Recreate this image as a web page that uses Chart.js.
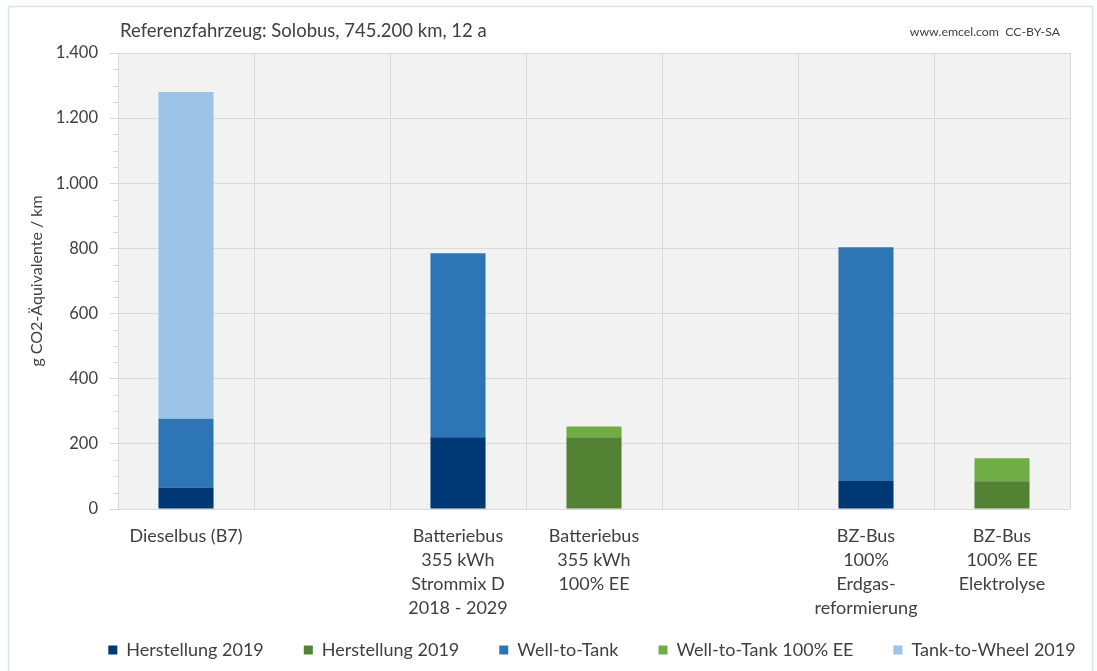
<!DOCTYPE html>
<html>
<head>
<meta charset="utf-8">
<script src="https://cdn.jsdelivr.net/npm/chart.js@4.4.1/dist/chart.umd.min.js"></script>
<style>
  html, body { margin: 0; padding: 0; background: #ffffff; }
  #wrap { position: relative; width: 1097px; height: 671px; }
  canvas { display: block; }
</style>
</head>
<body>
<div id="wrap"><canvas id="c" width="1097" height="671"></canvas></div>
<script>
// Vehicle categories (empty slots keep the gaps between vehicle groups)
const categories = [
  ["Dieselbus (B7)"],
  [""],
  ["Batteriebus", "355 kWh", "Strommix D", "2018 - 2029"],
  ["Batteriebus", "355 kWh", "100% EE"],
  [""],
  ["BZ-Bus", "100%", "Erdgas-", "reformierung"],
  ["BZ-Bus", "100% EE", "Elektrolyse"]
];

// g CO2-equivalents per km, per life-cycle stage
const herstellungFossil = [66, null, 220, null, null, 86, null];
const herstellungEE     = [null, null, null, 220, null, null, 85];
const wellToTank        = [211, null, 565, null, null, 718, null];
const wellToTankEE      = [null, null, null, 33, null, null, 71];
const tankToWheel       = [1003, null, null, null, null, null, null];

const yTicks = [0, 200, 400, 600, 800, 1000, 1200, 1400];

const titleText = "Referenzfahrzeug: Solobus, 745.200 km, 12 a";
const sourceText = "www.emcel.com  CC-BY-SA";
const yAxisTitle = "g CO2-Äquivalente / km";

const FONT = "Lato, 'Open Sans', sans-serif";
const TEXT = "#404040";
const GRID = "#d9d9d9";

function fmt(v) {
  return String(v).replace(/\B(?=(\d{3})+(?!\d))/g, ".");
}

// light hatched fill for the plotting area
function makeHatch() {
  const p = document.createElement("canvas");
  p.width = 4; p.height = 4;
  const g = p.getContext("2d");
  g.fillStyle = "#f4f4f4";
  g.fillRect(0, 0, 4, 4);
  g.strokeStyle = "#ececec";
  g.lineWidth = 1;
  g.beginPath();
  g.moveTo(0, 4); g.lineTo(4, 0);
  g.stroke();
  return p;
}

const decor = {
  id: "decor",
  afterLayout(chart) {
    // category labels run below the axis box; let them draw unclipped
    chart.scales.x._computeLabelArea = () => undefined;
    // legend row sits a little right of the canvas centre
    const lg = chart.legend;
    if (lg) { lg.left += 57; lg.right += 57; }
  },
  beforeDraw(chart) {
    const { ctx, chartArea: a, scales } = chart;
    ctx.save();
    // outer frame
    ctx.strokeStyle = "#d5e5ec";
    ctx.lineWidth = 1.5;
    ctx.strokeRect(8.5, 6.5, 1084, 700);
    // plot background
    ctx.fillStyle = ctx.createPattern(makeHatch(), "repeat");
    ctx.fillRect(a.left, a.top, a.right - a.left, a.bottom - a.top);
    // minor ticks every 50
    const y = scales.y;
    ctx.strokeStyle = GRID;
    ctx.lineWidth = 1;
    for (let v = 50; v < 1400; v += 50) {
      if (v % 200 === 0) continue;
      const py = Math.round(y.getPixelForValue(v)) + 0.5;
      ctx.beginPath();
      ctx.moveTo(a.left - 5, py);
      ctx.lineTo(a.left, py);
      ctx.stroke();
    }
    ctx.restore();
  },
  afterDraw(chart) {
    const { ctx } = chart;
    ctx.save();
    ctx.fillStyle = TEXT;
    ctx.textBaseline = "middle";
    ctx.font = "18.5px " + FONT;
    ctx.textAlign = "left";
    ctx.fillText(titleText, 120, 31);
    ctx.font = "12.3px " + FONT;
    ctx.textAlign = "right";
    ctx.fillText(sourceText, 1060, 32);
    ctx.restore();
  }
};

new Chart(document.getElementById("c"), {
  type: "bar",
  data: {
    labels: categories,
    datasets: [
      { label: "Herstellung 2019", data: herstellungFossil, backgroundColor: "#003876" },
      { label: "Herstellung 2019", data: herstellungEE, backgroundColor: "#548235" },
      { label: "Well-to-Tank", data: wellToTank, backgroundColor: "#2e75b6" },
      { label: "Well-to-Tank 100% EE", data: wellToTankEE, backgroundColor: "#70ad47" },
      { label: "Tank-to-Wheel 2019", data: tankToWheel, backgroundColor: "#9dc3e6" }
    ]
  },
  options: {
    responsive: false,
    animation: false,
    layout: { padding: { left: 0, top: 53, right: 27, bottom: 2 } },
    datasets: { bar: { categoryPercentage: 1, barPercentage: 0.405 } },
    plugins: {
      tooltip: { enabled: false },
      legend: {
        position: "bottom",
        labels: {
          color: TEXT,
          font: { family: FONT, size: 18 },
          boxWidth: 9,
          boxHeight: 9,
          padding: 40
        }
      }
    },
    scales: {
      x: {
        stacked: true,
        grid: { color: GRID, drawTicks: false, offset: true },
        border: { display: false },
        ticks: {
          color: TEXT,
          font: { family: FONT, size: 18, lineHeight: 1.333 },
          padding: 15,
          maxRotation: 0,
          autoSkip: false
        },
        afterFit(s) { s.height = 92; }
      },
      y: {
        stacked: true,
        min: 0,
        max: 1400,
        afterBuildTicks(s) { s.ticks = yTicks.map(v => ({ value: v })); },
        grid: { color: GRID, tickLength: 8 },
        border: { display: false },
        ticks: {
          color: TEXT,
          font: { family: FONT, size: 16.5 },
          padding: 12,
          callback: v => fmt(v)
        },
        title: {
          display: true,
          text: yAxisTitle,
          color: TEXT,
          font: { family: FONT, size: 16 },
          padding: { top: 27, bottom: 0 }
        },
        afterFit(s) { s.width = 118; }
      }
    }
  },
  plugins: [decor]
});
</script>
</body>
</html>
